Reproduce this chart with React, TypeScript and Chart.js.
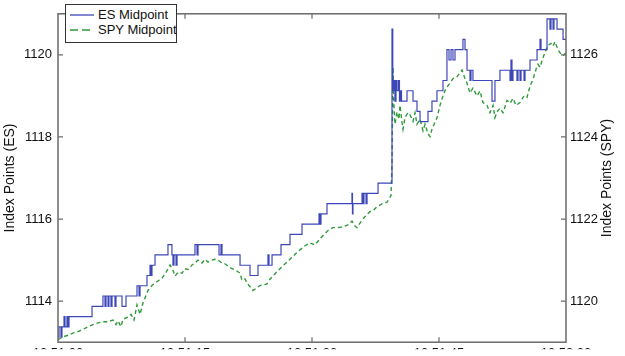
import React, { useEffect, useRef } from "react";
import { Chart, registerables } from "chart.js";

Chart.register(...registerables);

const xTickValues = [0, 15, 30, 45, 60];
const xTickLabels = ["10:51:00", "10:51:15", "10:51:30", "10:51:45", "10:52:00"];
const esTicks = [1114, 1116, 1118, 1120];
const spyTicks = [1120, 1122, 1124, 1126];
const esLabel = "ES Midpoint";
const spyLabel = "SPY Midpoint";
const esTitle = "Index Points (ES)";
const spyTitle = "Index Points (SPY)";

// seconds after 10:51:00
const esTimes = [
  0, 0.12, 0.35, 0.47, 0.71, 0.83, 1.06, 1.18, 1.3, 4.02,
  5.31, 5.55, 5.67, 5.91, 6.02, 6.26, 6.38, 6.73, 6.85, 7.56,
  8.03, 9.33, 9.57, 9.69, 10.51, 10.87, 10.98, 11.1, 11.46, 12.99,
  13.46, 13.58, 13.7, 13.94, 14.06, 16.18, 16.42, 16.54, 19.02, 19.25,
  19.37, 21.5, 22.68, 23.62, 24.8, 24.92, 25.28, 26.34, 27.4, 28.82,
  30.83, 30.94, 31.06, 31.77, 34.72, 34.78, 34.84, 35.91, 36.02, 36.14,
  36.38, 36.5, 37.8, 39.45, 39.54, 39.68, 39.8, 39.92, 40.04, 40.22,
  40.33, 40.45, 40.57, 41.22, 41.93, 42.4, 42.76, 43.7, 44.17, 44.76,
  45.47, 45.94, 46.18, 46.42, 46.65, 46.89, 47.83, 48.07, 48.31, 48.66,
  48.78, 49.01, 51.26, 51.61, 52.2, 53.39, 53.5, 53.62, 53.74, 54.21,
  54.33, 54.57, 54.69, 55.04, 55.16, 55.75, 56.58, 56.93, 57.05, 57.76,
  58.11, 58.23, 58.47, 58.58, 58.94, 59.65, 60,
];
const esValues = [
  1113.125, 1113.375, 1113.125, 1113.375, 1113.625, 1113.375, 1113.625, 1113.375, 1113.625, 1113.875,
  1114.125, 1113.875, 1114.125, 1113.875, 1114.125, 1113.875, 1114.125, 1113.875, 1114.125, 1113.875,
  1114.125, 1114.375, 1114.125, 1114.375, 1114.625, 1114.875, 1114.625, 1114.875, 1115.125, 1115.375,
  1115.125, 1114.875, 1115.125, 1114.875, 1115.125, 1115.375, 1115.125, 1115.375, 1115.125, 1115.375,
  1115.125, 1114.875, 1114.625, 1114.875, 1115.125, 1114.875, 1115.125, 1115.375, 1115.625, 1115.875,
  1116.125, 1115.875, 1116.125, 1116.375, 1116.625, 1116.125, 1116.375, 1116.625, 1116.375, 1116.625,
  1116.375, 1116.625, 1116.875, 1120.625, 1119.125, 1119.375, 1118.875, 1119.375, 1119.125, 1119.375,
  1118.875, 1119.125, 1118.875, 1119.125, 1118.875, 1118.625, 1118.375, 1118.625, 1118.875, 1119.125,
  1119.375, 1120.125, 1119.875, 1120.125, 1119.875, 1120.125, 1120.375, 1120.125, 1119.625, 1119.375,
  1119.625, 1119.375, 1118.875, 1119.375, 1119.625, 1119.375, 1119.875, 1119.375, 1119.625, 1119.375,
  1119.625, 1119.375, 1119.625, 1119.375, 1119.625, 1119.875, 1120.125, 1120.375, 1120.125, 1120.875,
  1120.625, 1120.875, 1120.625, 1120.875, 1120.625, 1120.375, 1120.375,
];

const spyTimes = [
  0, 0.59, 1.18, 1.77, 2.36, 2.95, 3.54, 4.13, 4.72, 5.31,
  5.91, 6.5, 6.85, 7.09, 7.44, 7.68, 8.27, 8.62, 8.98, 9.33,
  9.69, 10.04, 10.63, 11.1, 11.46, 11.93, 12.28, 12.76, 13.23, 13.58,
  13.82, 14.17, 14.65, 15.0, 15.35, 15.83, 16.18, 16.54, 17.01, 17.36,
  17.72, 18.19, 18.54, 18.9, 19.37, 19.72, 20.2, 20.55, 21.02, 21.5,
  21.73, 22.09, 22.32, 22.68, 23.03, 23.39, 23.86, 24.33, 24.68, 25.04,
  25.39, 25.87, 26.46, 26.93, 27.4, 27.99, 28.58, 29.17, 29.76, 30.35,
  30.71, 31.3, 31.89, 32.48, 33.07, 33.66, 34.25, 34.72, 35.08, 35.31,
  35.67, 36.02, 36.38, 36.85, 37.32, 37.68, 38.27, 38.86, 39.33, 39.45,
  39.57, 39.68, 39.8, 40.04, 40.27, 40.39, 40.63, 40.75, 40.98, 41.34,
  41.57, 41.93, 42.17, 42.4, 42.76, 43.11, 43.35, 43.7, 43.94, 44.17,
  44.53, 44.76, 45.12, 45.47, 45.83, 46.3, 46.65, 47.13, 47.48, 47.72,
  48.07, 48.31, 48.66, 49.01, 49.48, 49.84, 50.19, 50.67, 51.02, 51.38,
  51.61, 51.85, 52.2, 52.56, 53.03, 53.39, 53.74, 54.09, 54.57, 55.04,
  55.39, 55.75, 56.1, 56.46, 56.69, 56.93, 57.28, 57.64, 57.87, 58.23,
  58.47, 58.7, 59.06, 59.41, 59.65, 60,
];
const spyValues = [
  1119.06, 1119.13, 1119.17, 1119.22, 1119.26, 1119.31, 1119.38, 1119.43, 1119.47, 1119.5,
  1119.5, 1119.54, 1119.43, 1119.52, 1119.38, 1119.56, 1119.61, 1119.68, 1119.54, 1119.91,
  1119.68, 1119.96, 1120.26, 1120.38, 1120.44, 1120.51, 1120.56, 1120.7, 1120.88, 1120.75,
  1120.61, 1120.7, 1120.68, 1120.79, 1120.77, 1120.88, 1120.93, 1121.0, 1120.93, 1121.02,
  1120.95, 1121.0, 1121.02, 1121.0, 1120.93, 1120.91, 1120.84, 1120.79, 1120.75, 1120.68,
  1120.51, 1120.54, 1120.44, 1120.35, 1120.26, 1120.31, 1120.38, 1120.4, 1120.42, 1120.54,
  1120.61, 1120.72, 1120.84, 1120.93, 1121.02, 1121.14, 1121.25, 1121.35, 1121.42, 1121.37,
  1121.46, 1121.6, 1121.72, 1121.79, 1121.79, 1121.81, 1121.86, 1121.95, 1121.83, 1121.79,
  1121.9, 1122.0, 1122.09, 1122.18, 1122.23, 1122.3, 1122.37, 1122.41, 1122.57, 1123.38,
  1125.7, 1124.77, 1124.31, 1124.61, 1124.43, 1124.77, 1124.36, 1124.19, 1124.47, 1124.59,
  1124.54, 1124.38, 1124.59, 1124.31, 1124.43, 1124.15, 1124.31, 1124.08, 1124.01, 1124.19,
  1124.36, 1124.47, 1124.77, 1125.0, 1125.19, 1125.31, 1125.42, 1125.47, 1125.56, 1125.63,
  1125.42, 1125.31, 1125.07, 1125.19, 1125.0, 1125.12, 1124.84, 1124.77, 1124.59, 1124.77,
  1124.47, 1124.61, 1124.7, 1124.59, 1124.89, 1124.82, 1124.94, 1124.77, 1124.84, 1125.0,
  1124.96, 1125.24, 1125.4, 1125.65, 1125.77, 1125.7, 1125.93, 1126.12, 1126.23, 1126.28,
  1126.21, 1126.32, 1126.12, 1126.02, 1125.98, 1126.05,
];

const ES_COLOR = "#3d47b8";
const SPY_COLOR = "#2f9a3a";
const FONT = "'Liberation Sans', Arial, Helvetica, sans-serif";

export default function App() {
  const canvasRef = useRef<HTMLCanvasElement | null>(null);

  useEffect(() => {
    document.body.style.margin = "0";
    const canvas = canvasRef.current;
    if (!canvas) return;

    const framePlugin = {
      id: "frameTicks",
      afterDraw(chart: any) {
        const { ctx, chartArea } = chart;
        const { left, right, top, bottom } = chartArea;
        const sx = chart.scales.x;
        const sy = chart.scales.y;
        const sy1 = chart.scales.y1;
        const tl = 5;
        ctx.save();
        ctx.strokeStyle = "#6a6a6a";
        ctx.lineWidth = 1.5;
        ctx.strokeRect(left, top, right - left, bottom - top);
        ctx.lineWidth = 1.2;
        ctx.beginPath();
        xTickValues.forEach((v) => {
          const px = sx.getPixelForValue(v);
          if (px <= left + 1 || px >= right - 1) return;
          ctx.moveTo(px, bottom);
          ctx.lineTo(px, bottom - tl);
          ctx.moveTo(px, top);
          ctx.lineTo(px, top + tl);
        });
        esTicks.forEach((v) => {
          const py = sy.getPixelForValue(v);
          ctx.moveTo(left, py);
          ctx.lineTo(left + tl, py);
        });
        spyTicks.forEach((v) => {
          const py = sy1.getPixelForValue(v);
          ctx.moveTo(right, py);
          ctx.lineTo(right - tl, py);
        });
        ctx.stroke();
        // right axis title, reading bottom-to-top like the left one
        ctx.fillStyle = "#111";
        ctx.font = "14px " + FONT;
        ctx.textAlign = "center";
        ctx.textBaseline = "middle";
        ctx.translate(607, (top + bottom) / 2);
        ctx.rotate(-Math.PI / 2);
        ctx.fillText(spyTitle, 0, 0);
        ctx.restore();
      },
    };

    const chart = new Chart(canvas, {
      type: "line",
      data: {
        datasets: [
          {
            label: esLabel,
            data: esTimes.map((t, i) => ({ x: t, y: esValues[i] })),
            borderColor: ES_COLOR,
            borderWidth: 1.2,
            pointRadius: 0,
            stepped: true,
            yAxisID: "y",
            fill: false,
          },
          {
            label: spyLabel,
            data: spyTimes.map((t, i) => ({ x: t, y: spyValues[i] })),
            borderColor: SPY_COLOR,
            borderWidth: 1.4,
            borderDash: [4, 3],
            pointRadius: 0,
            tension: 0,
            yAxisID: "y1",
            fill: false,
          },
        ],
      },
      options: {
        animation: false,
        responsive: false,
        layout: { padding: { top: 3, left: 0, right: 0, bottom: 0 } },
        plugins: {
          legend: { display: false },
          tooltip: { enabled: false },
        },
        scales: {
          x: {
            type: "linear",
            min: 0,
            max: 60,
            grid: { display: false, drawTicks: false },
            border: { display: false },
            afterBuildTicks: (s: any) => {
              s.ticks = xTickValues.map((v) => ({ value: v }));
            },
            afterFit: (s: any) => {
              s.height = 7;
            },
            ticks: {
              autoSkip: false,
              maxRotation: 0,
              padding: 3,
              color: "#111",
              font: { family: FONT, size: 13 },
              callback: (v: any) => {
                const i = xTickValues.indexOf(Number(v));
                return i >= 0 ? xTickLabels[i] : "";
              },
            },
          },
          y: {
            type: "linear",
            position: "left",
            min: 1113,
            max: 1121,
            grid: { display: false, drawTicks: false },
            border: { display: false },
            afterBuildTicks: (s: any) => {
              s.ticks = esTicks.map((v) => ({ value: v }));
            },
            afterFit: (s: any) => {
              s.width = 58;
            },
            ticks: {
              padding: 6,
              color: "#111",
              font: { family: FONT, size: 13 },
              callback: (v: any) => String(v),
            },
            title: {
              display: true,
              text: esTitle,
              color: "#111",
              font: { family: FONT, size: 14 },
              padding: { top: 2, bottom: 0 },
            },
          },
          y1: {
            type: "linear",
            position: "right",
            min: 1119,
            max: 1127,
            grid: { display: false, drawTicks: false },
            border: { display: false },
            afterBuildTicks: (s: any) => {
              s.ticks = spyTicks.map((v) => ({ value: v }));
            },
            afterFit: (s: any) => {
              s.width = 59;
            },
            ticks: {
              padding: 4,
              color: "#111",
              font: { family: FONT, size: 13 },
              callback: (v: any) => String(v),
            },
          },
        },
      },
      plugins: [framePlugin],
    });

    return () => {
      chart.destroy();
    };
  }, []);

  return (
    <div style={{ position: "relative", width: 625, height: 356, overflow: "hidden", background: "#fff" }}>
      <canvas ref={canvasRef} width={625} height={356} style={{ display: "block" }} />
      <div
        style={{
          position: "absolute",
          left: 65,
          top: 4,
          width: 110,
          height: 37,
          border: "1px solid #333",
          background: "#fff",
          fontFamily: FONT,
          fontSize: 13,
          color: "#111",
          lineHeight: "14px",
        }}
      >
        <div style={{ position: "absolute", left: 4, top: 3, display: "flex", alignItems: "center", whiteSpace: "nowrap" }}>
          <svg width={24} height={14} style={{ marginRight: 4 }}>
            <line x1={0} y1={7} x2={24} y2={7} stroke={ES_COLOR} strokeWidth={1.3} />
          </svg>
          <span>{esLabel}</span>
        </div>
        <div style={{ position: "absolute", left: 4, top: 18, display: "flex", alignItems: "center", whiteSpace: "nowrap" }}>
          <svg width={24} height={14} style={{ marginRight: 4 }}>
            <line x1={0} y1={7} x2={24} y2={7} stroke={SPY_COLOR} strokeWidth={1.4} strokeDasharray="8 4" />
          </svg>
          <span>{spyLabel}</span>
        </div>
      </div>
    </div>
  );
}
